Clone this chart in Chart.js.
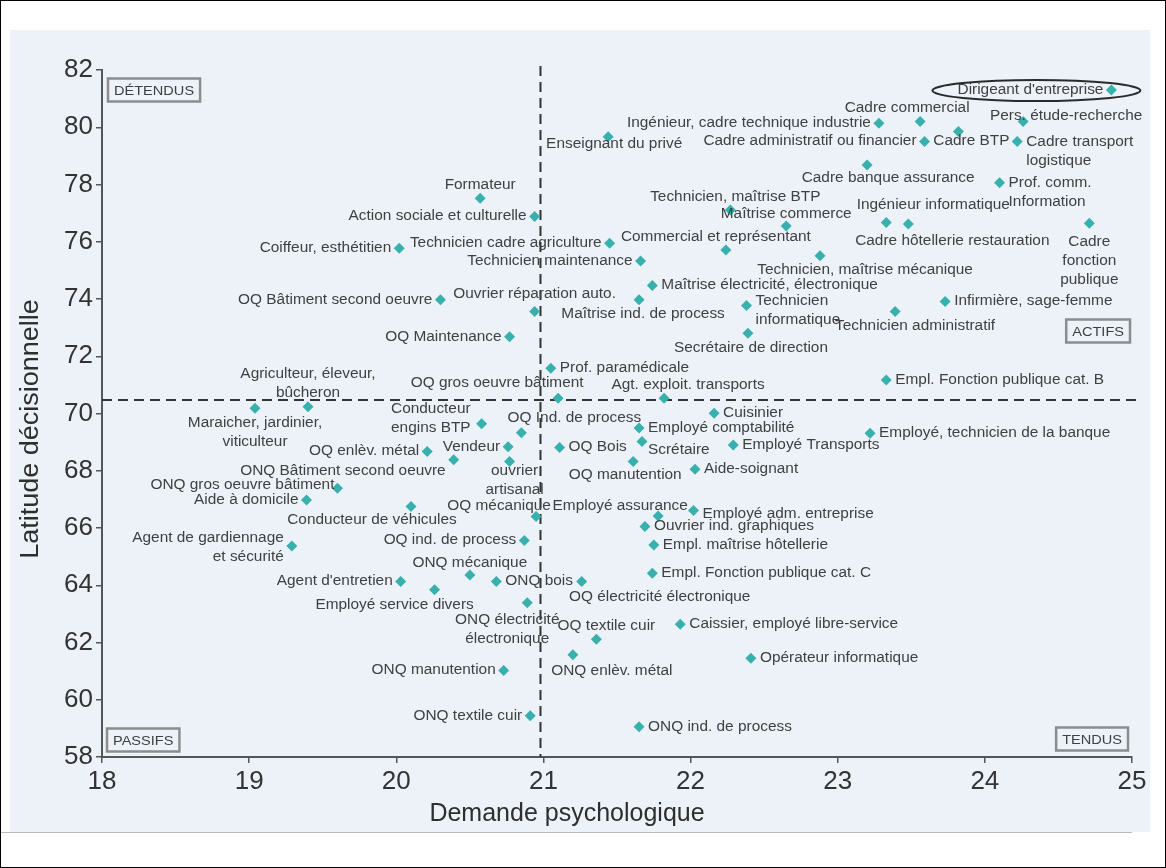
<!DOCTYPE html>
<html>
<head>
<meta charset="utf-8">
<script src="https://cdn.jsdelivr.net/npm/chart.js@4/dist/chart.umd.min.js"></script>
<style>
  html, body { margin: 0; padding: 0; background: #ffffff; }
  canvas { display: block; }
</style>
</head>
<body>
<canvas id="myChart" width="1166" height="868"></canvas>
<script>
// Professions : demande psychologique (x) / latitude decisionnelle (y)
var metiers = [
    "Dirigeant d'entreprise", "Cadre commercial", "Ingénieur, cadre technique industrie",
    "Pers. étude-recherche", "Cadre BTP", "Cadre administratif ou financier",
    "Cadre transport\nlogistique", "Enseignant du privé", "Formateur",
    "Action sociale et culturelle", "Coiffeur, esthétitien", "Technicien cadre agriculture",
    "Commercial et représentant", "Technicien, maîtrise BTP", "Maîtrise commerce",
    "Cadre banque assurance", "Prof. comm.\nInformation", "Ingénieur informatique",
    "Cadre hôtellerie restauration", "Cadre\nfonction\npublique", "Technicien, maîtrise mécanique",
    "Maîtrise électricité, électronique", "Ouvrier réparation auto.", "OQ Bâtiment second oeuvre",
    "Maîtrise ind. de process", "Technicien\ninformatique", "Secrétaire de direction",
    "Infirmière, sage-femme", "Technicien administratif", "OQ Maintenance",
    "Prof. paramédicale", "OQ gros oeuvre bâtiment", "Agt. exploit. transports",
    "Empl. Fonction publique cat. B", "Agriculteur, éleveur,\nbûcheron", "Maraicher, jardinier,\nviticulteur",
    "Conducteur\nengins BTP", "OQ Ind. de process", "Employé comptabilité",
    "Cuisinier", "Scrétaire", "OQ Bois",
    "Vendeur", "OQ enlèv. métal", "Employé Transports",
    "Employé, technicien de la banque", "ONQ Bâtiment second oeuvre", "ouvrier\nartisanal",
    "OQ manutention", "Aide-soignant", "ONQ gros oeuvre bâtiment",
    "Aide à domicile", "Conducteur de véhicules", "OQ mécanique",
    "Employé assurance", "Employé adm. entreprise", "Ouvrier ind. graphiques",
    "Empl. maîtrise hôtellerie", "OQ ind. de process", "Agent de gardiennage\net sécurité",
    "ONQ mécanique", "ONQ bois", "Empl. Fonction publique cat. C",
    "Agent d'entretien", "OQ électricité électronique", "Employé service divers",
    "ONQ électricité\nélectronique", "OQ textile cuir", "Caissier, employé libre-service",
    "ONQ enlèv. métal", "Opérateur informatique", "ONQ manutention",
    "ONQ textile cuir", "ONQ ind. de process", "Technicien maintenance"
];

var demande = [
    24.86, 23.56, 23.28, 24.26, 23.82, 23.59, 24.22, 21.44, 20.57,
    20.94, 20.02, 21.45, 22.24, 22.27, 22.65, 23.20, 24.10, 23.33,
    23.48, 24.71, 22.88, 21.74, 20.94, 20.30, 21.65, 22.38, 22.39,
    23.73, 23.39, 20.77, 21.05, 21.10, 21.82, 23.33, 19.40, 19.04,
    20.58, 20.85, 21.65, 22.16, 21.67, 21.11, 20.76, 20.21, 22.29,
    23.22, 20.39, 20.77, 21.61, 22.03, 19.60, 19.39, 20.10, 20.95,
    21.78, 22.02, 21.69, 21.75, 20.87, 19.29, 20.50, 20.68, 21.74,
    20.03, 21.26, 20.26, 20.89, 21.36, 21.93, 21.20, 22.41, 20.73,
    20.91, 21.65, 21.66
];

var latitude = [
    81.30, 80.20, 80.14, 80.20, 79.85, 79.50, 79.50, 79.67, 77.52,
    76.88, 75.77, 75.95, 75.71, 77.11, 76.55, 78.68, 78.06, 76.67,
    76.62, 76.65, 75.51, 74.47, 73.56, 73.97, 73.97, 73.77, 72.80,
    73.91, 73.56, 72.68, 71.58, 70.53, 70.53, 71.17, 70.24, 70.18,
    69.64, 69.33, 69.49, 70.01, 69.02, 68.81, 68.84, 68.67, 68.90,
    69.31, 68.38, 68.32, 68.32, 68.05, 67.39, 66.98, 66.75, 66.40,
    66.42, 66.61, 66.05, 65.41, 65.56, 65.37, 64.36, 64.13, 64.42,
    64.13, 64.13, 63.84, 63.39, 62.11, 62.64, 61.57, 61.45, 61.02,
    59.44, 59.06, 75.33
];

// moyennes (lignes pointillees)
var moyenneDemande = 20.98;
var moyenneLatitude = 70.47;

var xTicks = [18, 19, 20, 21, 22, 23, 24, 25];
var yTicks = [58, 60, 62, 64, 66, 68, 70, 72, 74, 76, 78, 80, 82];

var quadrants = ["DÉTENDUS", "ACTIFS", "PASSIFS", "TENDUS"];

// position de l'etiquette : cote, decalage x, decalage y
var placement = [
    ['l',0,0], ['t',-13,0], ['l',0,0], ['t',43,8], ['b',13,-4], ['l',0,0],
    ['r',0,10], ['b',6,-7], ['t',0,0], ['l',0,0], ['l',0,0], ['l',0,0],
    ['t',-10,0], ['t',5,0], ['t',0,1], ['b',21,-1], ['r',0,10], ['t',47,-4],
    ['b',44,3], ['b',0,5], ['b',45,0], ['r',0,0], ['t',0,-4], ['l',0,0],
    ['b',4,0], ['r',0,5], ['b',3,1], ['r',0,0], ['b',20,1], ['l',0,0],
    ['r',0,0], ['t',-61,-2], ['t',24,0], ['r',0,0], ['t',0,0], ['b',0,1],
    ['l',-3,-5], ['t',53,-2], ['r',0,0], ['r',0,0], ['r',-3,9], ['r',0,0],
    ['l',0,0], ['l',0,0], ['r',0,0], ['r',0,0], ['l',0,11], ['b',5,-4],
    ['b',-8,0], ['r',0,0], ['l',5,-3], ['l',0,0], ['b',-39,0], ['t',-37,3],
    ['t',-38,3], ['r',0,4], ['r',0,0], ['r',0,0], ['l',0,0], ['l',0,2],
    ['t',0,1], ['r',0,0], ['r',0,0], ['l',0,0], ['b',78,2], ['b',-40,1],
    ['b',-20,3], ['t',10,0], ['r',0,0], ['b',39,2], ['r',0,0], ['l',0,0],
    ['l',0,0], ['r',0,0], ['l',0,0]
];

var fond = '#ecf2f8';
var turquoise = '#38b1ae';
var texte = '#404040';

function getPoints() {
    var pts = [];
    for (var i = 0; i < demande.length; i++) {
        pts.push({x: demande[i], y: latitude[i]});
    }
    return pts;
}

// texte un peu elargi comme dans le graphique Stata
function ecrire(c, txt, x, y, align, sx) {
    c.save();
    c.translate(x, y);
    c.scale(sx, 1);
    c.textAlign = align;
    c.fillText(txt, 0, 0);
    c.restore();
}

function boite(c, txt, x, y, align) {
    c.font = '13px "Liberation Sans", Arial, sans-serif';
    var w = c.measureText(txt).width * 1.12 + 12;
    var h = 23;
    var left = align == 'right' ? x - w : x;
    c.strokeStyle = '#8c8c8c';
    c.lineWidth = 2.5;
    c.strokeRect(left, y - h / 2, w, h);
    c.fillStyle = texte;
    ecrire(c, txt, left + w / 2, y + 1, 'center', 1.12);
}

var decor = {
    id: 'decor',
    beforeDraw: function (chart) {
        var c = chart.ctx;
        c.save();
        c.fillStyle = '#ffffff';
        c.fillRect(0, 0, chart.width, chart.height);
        c.fillStyle = fond;
        c.fillRect(10, 30, 1140, 802);
        c.strokeStyle = '#b8bcc0';
        c.lineWidth = 1;
        c.beginPath();
        c.moveTo(0, 832.5);
        c.lineTo(1132, 832.5);
        c.stroke();
        c.strokeStyle = '#000000';
        c.strokeRect(0.5, 0.5, chart.width - 1, chart.height - 1);
        c.restore();
    },
    beforeDatasetsDraw: function (chart) {
        var c = chart.ctx;
        var a = chart.chartArea;
        var px = chart.scales.x.getPixelForValue(moyenneDemande);
        var py = chart.scales.y.getPixelForValue(moyenneLatitude);
        c.save();
        c.strokeStyle = '#333333';
        c.lineWidth = 2;
        c.setLineDash([10, 6]);
        c.beginPath();
        c.moveTo(px, a.top - 4);
        c.lineTo(px, a.bottom);
        c.moveTo(a.left, py);
        c.lineTo(a.right + 6, py);
        c.stroke();
        c.restore();
    },
    afterDatasetsDraw: function (chart) {
        var c = chart.ctx;
        var a = chart.chartArea;
        var sx = chart.scales.x;
        var sy = chart.scales.y;
        var lh = 19;
        c.save();
        c.fillStyle = texte;
        c.textBaseline = 'middle';
        c.font = '14px "Liberation Sans", Arial, sans-serif';
        for (var i = 0; i < metiers.length; i++) {
            var x = sx.getPixelForValue(demande[i]);
            var y = sy.getPixelForValue(latitude[i]);
            var lignes = metiers[i].split('\n');
            var n = lignes.length;
            var p = placement[i];
            var tx, ty, align;
            if (p[0] == 'l') {
                tx = x - 8; align = 'right'; ty = y - (n - 1) * lh / 2;
            } else if (p[0] == 'r') {
                tx = x + 9; align = 'left'; ty = y - (n - 1) * lh / 2;
            } else if (p[0] == 't') {
                tx = x; align = 'center'; ty = y - 13 - (n - 1) * lh;
            } else {
                tx = x; align = 'center'; ty = y + 14;
            }
            for (var k = 0; k < n; k++) {
                ecrire(c, lignes[k], tx + p[1], ty + p[2] + k * lh, align, 1.1);
            }
        }

        // ellipse autour du dirigeant
        var dx = sx.getPixelForValue(demande[0]);
        var dy = sy.getPixelForValue(latitude[0]);
        c.strokeStyle = '#2a2a2a';
        c.lineWidth = 2;
        c.beginPath();
        c.ellipse(dx - 75, dy + 0.5, 104, 10.5, 0, 0, Math.PI * 2);
        c.stroke();

        // cadrans
        boite(c, quadrants[0], a.left + 6, a.top + 20, 'left');
        boite(c, quadrants[1], a.right - 2, 331, 'right');
        boite(c, quadrants[2], a.left + 5, a.bottom - 17, 'left');
        boite(c, quadrants[3], a.right - 4, a.bottom - 18, 'right');

        // titres des axes
        c.fillStyle = '#2e2e2e';
        c.font = '25px "Liberation Sans", Arial, sans-serif';
        ecrire(c, 'Demande psychologique', 567, 814, 'center', 1.0);
        c.save();
        c.translate(31, 429);
        c.rotate(-Math.PI / 2);
        ecrire(c, 'Latitude décisionnelle', 0, 0, 'center', 1.08);
        c.restore();
        c.restore();
    }
};

var ctx = document.getElementById('myChart').getContext('2d');
var myChart = new Chart(ctx, {
    type: 'scatter',
    data: {
        datasets: [{
            label: 'Professions',
            data: getPoints(),
            pointStyle: 'rectRot',
            pointRadius: 5.5,
            backgroundColor: turquoise,
            borderWidth: 0
        }]
    },
    options: {
        responsive: false,
        animation: false,
        layout: { padding: { left: 0, right: 34, top: 70, bottom: 0 } },
        plugins: { legend: { display: false }, tooltip: { enabled: false } },
        scales: {
            x: {
                type: 'linear',
                min: xTicks[0],
                max: xTicks[xTicks.length - 1],
                afterFit: function (s) { s.height = 111; },
                afterBuildTicks: function (s) { s.ticks = xTicks.map(function (v) { return {value: v}; }); },
                ticks: { color: '#333', font: { size: 26, family: '"Liberation Sans", Arial, sans-serif' }, padding: 3 },
                grid: { drawOnChartArea: false, drawTicks: true, tickLength: 6, color: '#555', lineWidth: 1.5 },
                border: { display: true, color: '#555', width: 2 }
            },
            y: {
                type: 'linear',
                min: yTicks[0],
                max: yTicks[yTicks.length - 1],
                afterFit: function (s) { s.width = 102; },
                afterBuildTicks: function (s) { s.ticks = yTicks.map(function (v) { return {value: v}; }); },
                ticks: { color: '#333', font: { size: 26, family: '"Liberation Sans", Arial, sans-serif' }, padding: 3 },
                grid: { drawOnChartArea: false, drawTicks: true, tickLength: 6, color: '#555', lineWidth: 1.5 },
                border: { display: true, color: '#555', width: 2 }
            }
        }
    },
    plugins: [decor]
});
</script>
</body>
</html>
